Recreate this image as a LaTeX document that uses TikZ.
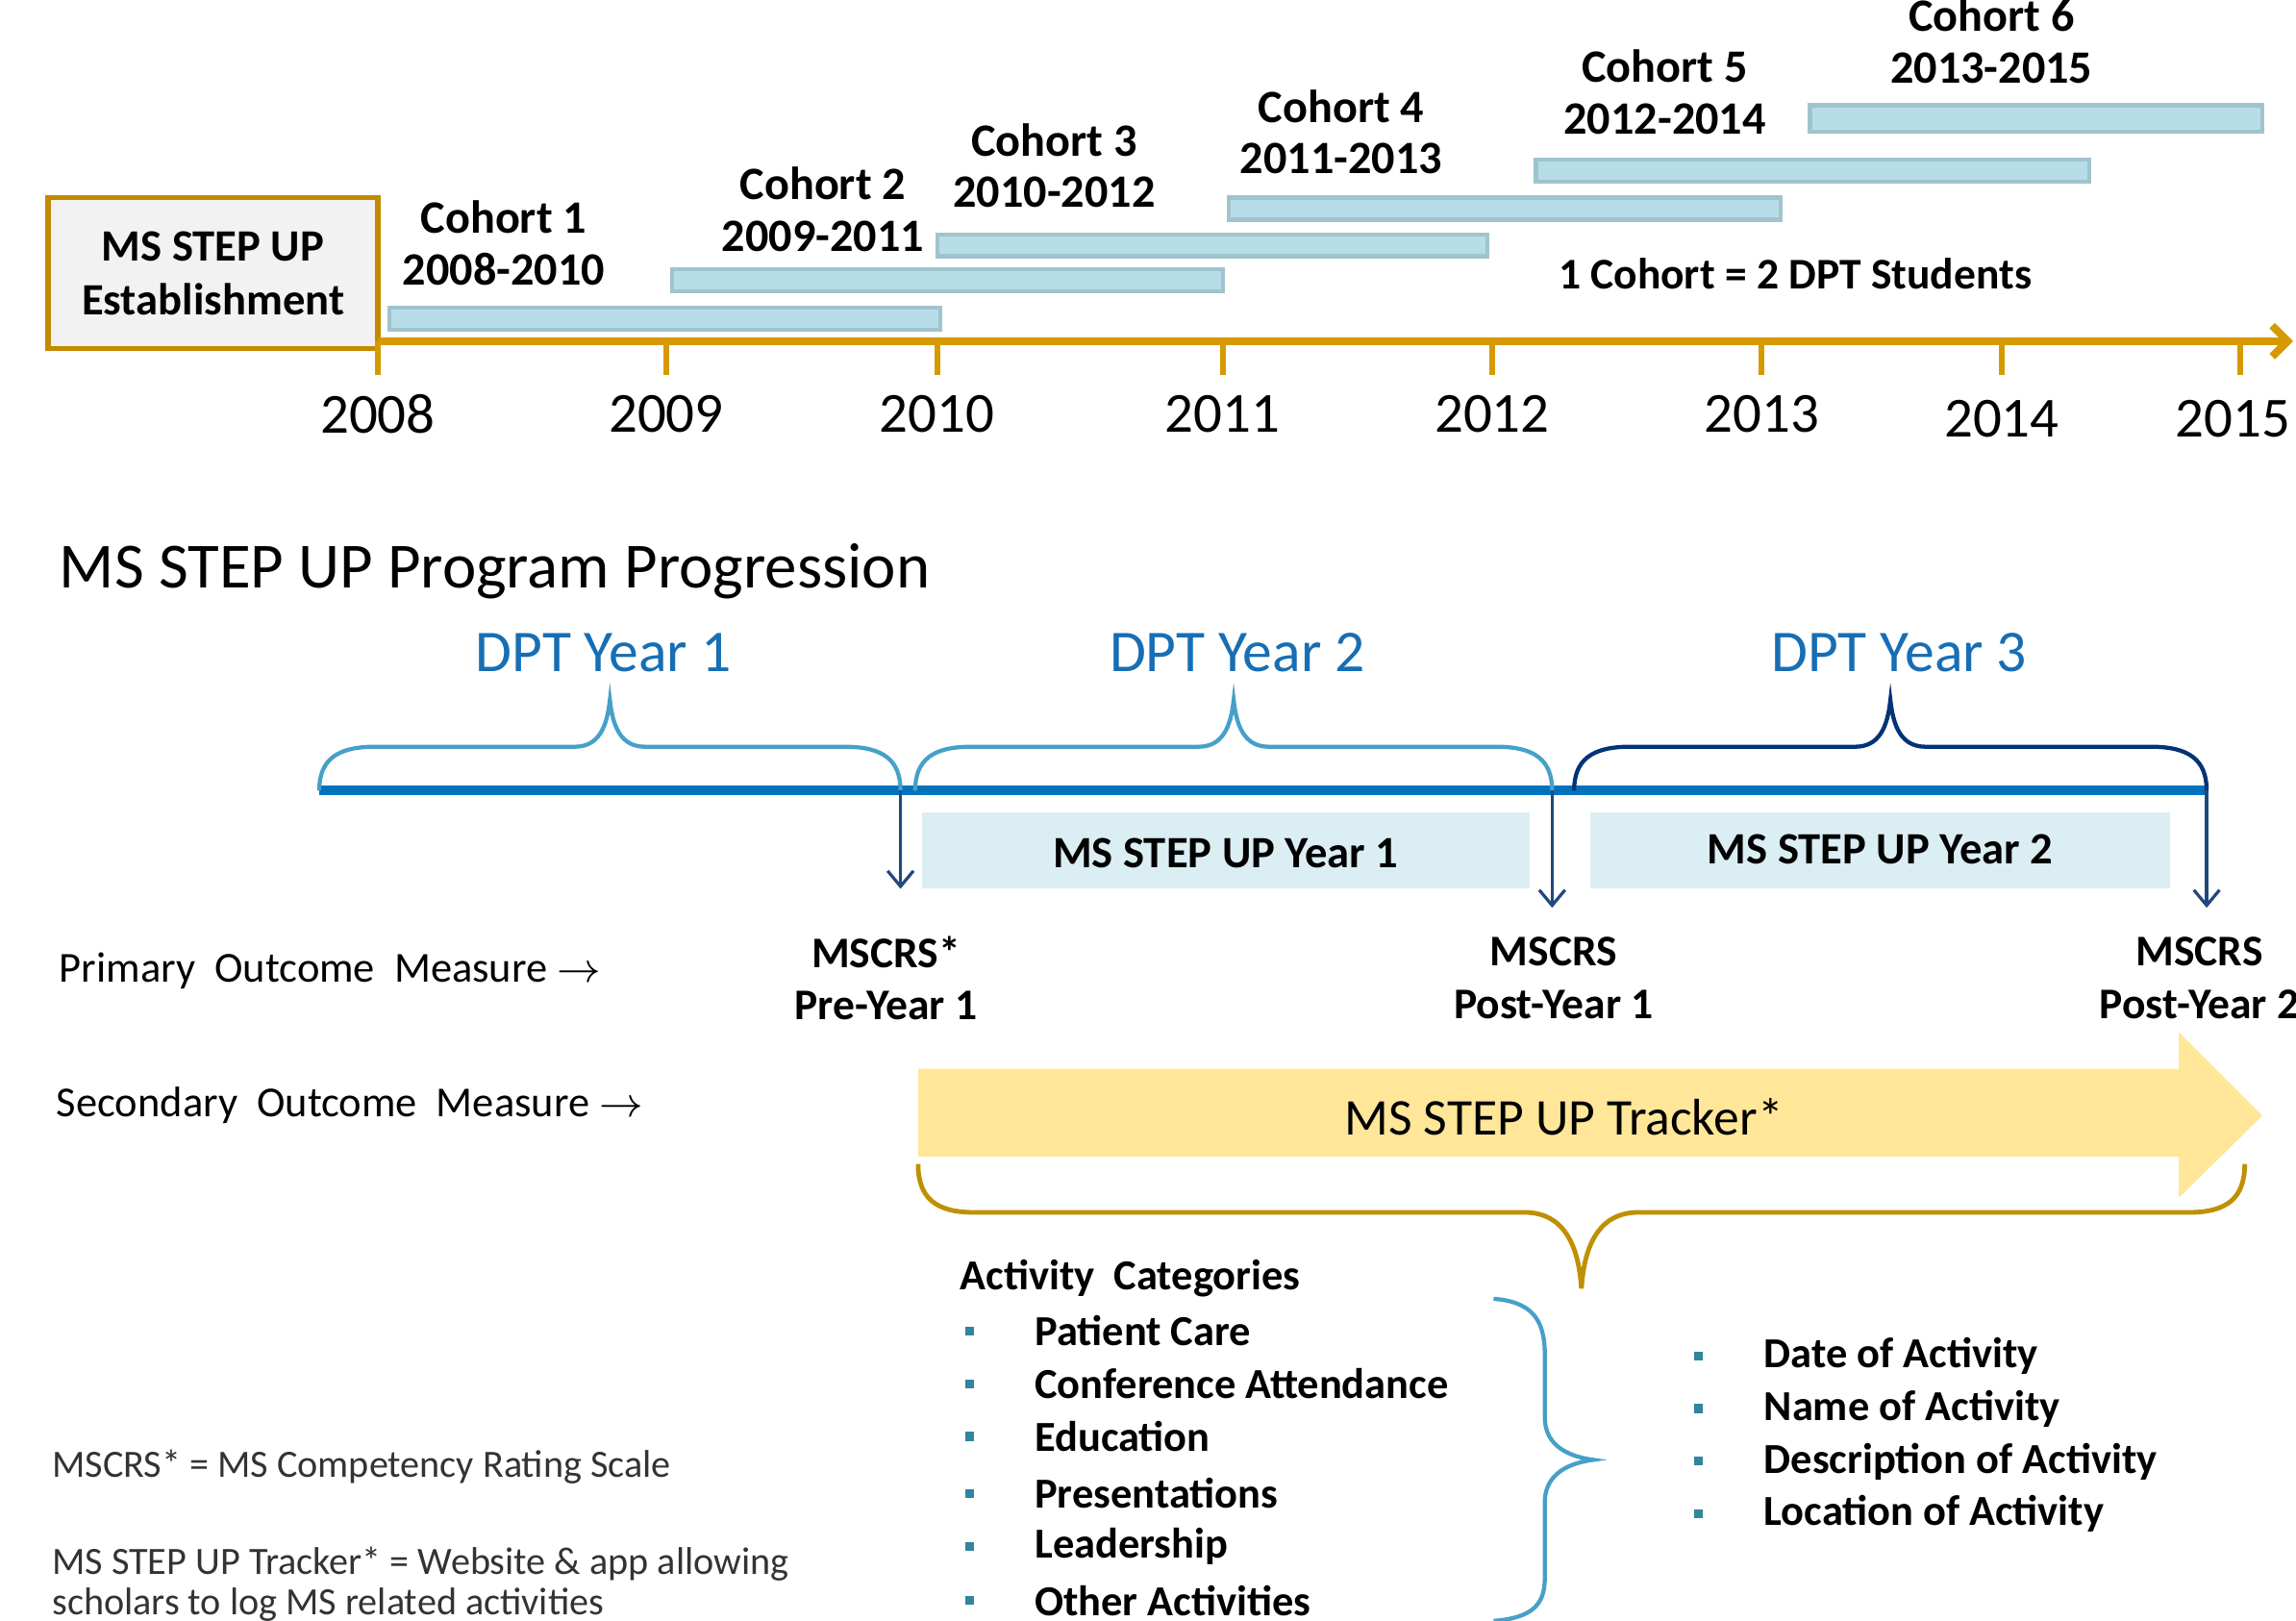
\documentclass[tikz,border=0pt]{standalone}
\usepackage{fontspec}
\setmainfont{Carlito}
\usetikzlibrary{arrows.meta}

\definecolor{axisgold}{RGB}{214,154,0}
\definecolor{boxgold}{RGB}{196,137,0}
\definecolor{boxgray}{RGB}{242,242,242}
\definecolor{barfill}{RGB}{183,221,232}
\definecolor{barline}{RGB}{160,196,206}
\definecolor{dptblue}{RGB}{23,110,180}
\definecolor{lineblue}{RGB}{0,114,188}
\definecolor{bracelight}{RGB}{70,160,200}
\definecolor{bracenavy}{RGB}{0,51,120}
\definecolor{arrownavy}{RGB}{31,73,125}
\definecolor{yearbox}{RGB}{218,238,243}
\definecolor{trackfill}{RGB}{255,230,153}
\definecolor{bracegold}{RGB}{191,144,0}
\definecolor{bulletteal}{RGB}{49,133,156}

\tikzset{
  estbox/.style={draw=boxgold, line width=1.1pt, fill=boxgray, align=center,
    minimum width=2.25cm, minimum height=1.03cm, inner sep=0pt,
    font=\bfseries\fontsize{8.7}{10.5}\selectfont},
  cohortbar/.style={draw=barline, fill=barfill, line width=0.8pt},
  cohortlabel/.style={align=center, font=\bfseries\fontsize{9}{10}\selectfont},
  yearlabel/.style={font=\fontsize{11}{12}\selectfont},
  axisline/.style={draw=axisgold, line width=1.5pt},
  dptlabel/.style={text=dptblue, font=\fontsize{11.5}{13}\selectfont},
  stepbox/.style={fill=yearbox, inner sep=0pt, font=\bfseries\fontsize{8.7}{10}\selectfont},
  measlabel/.style={align=center, font=\bfseries\fontsize{8.5}{10.2}\selectfont},
  measarrow/.style={draw=arrownavy, line width=0.6pt, -{Straight Barb[length=3pt,width=5pt]}},
  rowlabel/.style={anchor=west, inner sep=0pt, font=\fontsize{8.3}{10}\selectfont},
  listitem/.style={anchor=west, inner sep=0pt, font=\bfseries\fontsize{8.3}{10}\selectfont},
  bulletbox/.style={fill=bulletteal, inner sep=0pt, minimum size=0.06cm},
  footnote/.style={anchor=west, inner sep=0pt, text=black!80, font=\fontsize{7.5}{9}\selectfont}
}

% brace: style, left x, right x, base y, flat offset, tip offset
\newcommand{\bracepath}[6]{%
  \draw[#1] (#2,#4) .. controls (#2,{#4+0.7*(#5)}) and ({#2+12},{#4+(#5)}) .. ({#2+38},{#4+(#5)})
    -- ({(#2+#3)/2-0.75*abs((#6)-(#5))},{#4+(#5)}) .. controls ({(#2+#3)/2-0.25*abs((#6)-(#5))},{#4+(#5)}) and ({(#2+#3)/2-2},{#4+(#5)+0.4*((#6)-(#5))}) .. ({(#2+#3)/2},{#4+(#6)})
    .. controls ({(#2+#3)/2+2},{#4+(#5)+0.4*((#6)-(#5))}) and ({(#2+#3)/2+0.25*abs((#6)-(#5))},{#4+(#5)}) .. ({(#2+#3)/2+0.75*abs((#6)-(#5))},{#4+(#5)})
    -- ({#3-38},{#4+(#5)}) .. controls ({#3-12},{#4+(#5)}) and (#3,{#4+0.7*(#5)}) .. (#3,#4);}

\begin{document}
\begin{tikzpicture}[x=0.01cm, y=-0.01cm]
\useasboundingbox (0,0) rectangle (1568,1107);

%Timeline:
\node[estbox] (est) at (145.5,186.5) {MS STEP UP\\Establishment};
\coordinate (axstart) at (258,233);
\coordinate (axend) at (1566,233);
\draw[axisline, -{Straight Barb[length=3pt,width=6pt]}] (axstart) -- (axend);
\draw[axisgold, line width=1.1pt]
  (258,233) -- (258,256) (455,233) -- (455,256) (640,233) -- (640,256) (835,233) -- (835,256)
  (1019,233) -- (1019,256) (1203,233) -- (1203,256) (1367,233) -- (1367,256) (1530,233) -- (1530,256);
\path
  (258,283) node[yearlabel] (y2008) {2008}
  (455,283) node[yearlabel] (y2009) {2009}
  (640,283) node[yearlabel] (y2010) {2010}
  (835,283) node[yearlabel] (y2011) {2011}
  (1019,283) node[yearlabel] (y2012) {2012}
  (1203,283) node[yearlabel] (y2013) {2013}
  (1367,286) node[yearlabel] (y2014) {2014}
  (1525,286) node[yearlabel] (y2015) {2015};

%Cohorts:
\draw[cohortbar] (266,210) rectangle (642,225);
\draw[cohortbar] (459,184) rectangle (835,199);
\draw[cohortbar] (640,160) rectangle (1016,175);
\draw[cohortbar] (839,135) rectangle (1216,150);
\draw[cohortbar] (1049,109) rectangle (1427,124);
\draw[cohortbar] (1236,72) rectangle (1545,90);
\path
  (344,166) node[cohortlabel] (c1) {Cohort 1\\2008-2010}
  (562,143) node[cohortlabel] (c2) {Cohort 2\\2009-2011}
  (720,113) node[cohortlabel] (c3) {Cohort 3\\2010-2012}
  (916,90) node[cohortlabel] (c4) {Cohort 4\\2011-2013}
  (1137,63) node[cohortlabel] (c5) {Cohort 5\\2012-2014}
  (1360,28) node[cohortlabel] (c6) {Cohort 6\\2013-2015}
  (1226,187) node[cohortlabel, font=\bfseries\fontsize{8.5}{10}\selectfont] (note) {1 Cohort = 2 DPT Students};

%Program progression:
\node[anchor=west, inner sep=0pt, font=\fontsize{12.5}{14}\selectfont] (title) at (40,390) {MS STEP UP Program Progression};
\path
  (412,446) node[dptlabel] (dpt1) {DPT Year 1}
  (845,446) node[dptlabel] (dpt2) {DPT Year 2}
  (1297,446) node[dptlabel] (dpt3) {DPT Year 3};
\draw[lineblue, line width=1.9pt] (218,540) -- (1507,540);
\bracepath{bracelight, line width=0.8pt}{218}{615}{540}{-30}{-62}
\bracepath{bracelight, line width=0.8pt}{625}{1060}{540}{-30}{-62}
\bracepath{bracenavy, line width=0.8pt}{1075}{1507}{540}{-30}{-62}
\fill[yearbox] (630,555) rectangle (1045,607);
\fill[yearbox] (1086,555) rectangle (1482,607);
\path
  (837,583) node[stepbox] (sy1) {MS STEP UP Year 1}
  (1284,580) node[stepbox] (sy2) {MS STEP UP Year 2};

\coordinate (j1) at (615,540);
\coordinate (j2) at (1060,540);
\coordinate (j3) at (1507,540);
\coordinate (e1) at (615,607);
\coordinate (e2) at (1060,620);
\coordinate (e3) at (1507,620);
\draw[measarrow] (j1) -- (e1);
\draw[measarrow] (j2) -- (e2);
\draw[measarrow] (j3) -- (e3);
\path
  (605,668) node[measlabel] (m1) {MSCRS*\\Pre-Year 1}
  (1061,668) node[measlabel] (m2) {MSCRS\\Post-Year 1}
  (1502,668) node[measlabel] (m3) {MSCRS\\Post-Year 2};

\path
  (40,663) node[rowlabel] (prim) {Primary\ \ Outcome\ \ Measure $\rightarrow$}
  (38,755) node[rowlabel] (sec) {Secondary\ \ Outcome\ \ Measure $\rightarrow$};

%Tracker:
\fill[trackfill] (627,730) -- (1488,730) -- (1488,705) -- (1545,762) -- (1488,818) -- (1488,790) -- (627,790) -- cycle;
\node[font=\fontsize{10}{12}\selectfont] (track) at (1068,763) {MS STEP UP Tracker*};
\bracepath{bracegold, line width=0.9pt}{627}{1533}{795}{33}{85}

%Activities:
\path
  (655,873) node[listitem] (acthead) {Activity\ \ Categories}
  (662,909) node[bulletbox] (b1) {}
  (662,945) node[bulletbox] (b2) {}
  (662,981) node[bulletbox] (b3) {}
  (662,1020) node[bulletbox] (b4) {}
  (662,1056) node[bulletbox] (b5) {}
  (662,1093) node[bulletbox] (b6) {}
  (706,909) node[listitem] (a1) {Patient Care}
  (706,945) node[listitem] (a2) {Conference Attendance}
  (706,981) node[listitem] (a3) {Education}
  (706,1020) node[listitem] (a4) {Presentations}
  (706,1056) node[listitem] (a5) {Leadership}
  (706,1093) node[listitem] (a6) {Other Activities};
\draw[bracelight, line width=0.8pt] (1020,887) .. controls (1045,889) and (1055,900) .. (1055,925)
  -- (1055,968) .. controls (1055,984) and (1066,994) .. (1088,997)
  .. controls (1066,1000) and (1055,1010) .. (1055,1026)
  -- (1055,1078) .. controls (1055,1097) and (1045,1105) .. (1020,1107);
\path
  (1160,926) node[bulletbox] (d1) {}
  (1160,962) node[bulletbox] (d2) {}
  (1160,998) node[bulletbox] (d3) {}
  (1160,1034) node[bulletbox] (d4) {}
  (1204,926) node[listitem] (f1) {Date of Activity}
  (1204,962) node[listitem] (f2) {Name of Activity}
  (1204,998) node[listitem] (f3) {Description of Activity}
  (1204,1034) node[listitem] (f4) {Location of Activity};

%Footnotes:
\path
  (35,1002) node[footnote] (fn1) {MSCRS* = MS Competency Rating Scale}
  (35,1068) node[footnote] (fn2) {MS STEP UP Tracker* = Website \& app allowing}
  (35,1096) node[footnote] (fn3) {scholars to log MS related activities};
\end{tikzpicture}
\end{document}
